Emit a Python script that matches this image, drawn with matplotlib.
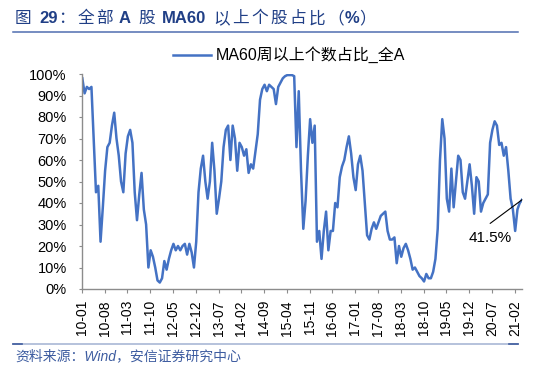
import matplotlib
matplotlib.use('Agg')
import matplotlib.pyplot as plt
import matplotlib.dates as mdates
from matplotlib.lines import Line2D
from matplotlib.ticker import FuncFormatter
import pandas as pd

plt.rcParams['font.family'] = ['Liberation Sans', 'Noto Sans CJK SC', 'DejaVu Sans']

# share of A-shares above the weekly MA60 (%), every 3 weeks
ratio = [
    98, 91, 94, 93, 94, 70, 45, 48, 22, 38,
    55, 66, 68, 76, 82, 70, 62, 50, 45, 63,
    71, 74, 68, 45, 32, 44, 54, 37, 30, 10,
    18, 15, 10, 4, 3, 5, 13, 9, 14, 18,
    21, 18, 20, 18, 20, 21, 16, 21, 17, 10,
    22, 45, 56, 62, 50, 42, 50, 68, 55, 35,
    42, 50, 66, 74, 76, 60, 76, 70, 55, 68,
    66, 62, 65, 54, 58, 56, 64, 72, 88, 93,
    95, 92, 95, 94, 93, 86, 94, 96, 98, 99,
    99.5, 99.5, 99.5, 99, 66, 92, 55, 28, 41, 62,
    79, 68, 76, 22, 27, 14, 27, 36, 18, 27,
    27, 40, 38, 52, 57, 60, 66, 71, 63, 52,
    46, 58, 62, 55, 40, 25, 23, 28, 31, 28,
    31, 34, 35, 36, 27, 23, 23, 24, 12, 20,
    15, 19, 21, 18, 14, 9, 10, 8, 6, 5,
    3.5, 7, 5, 5, 8, 14, 28, 60, 79, 70,
    42, 36, 56, 38, 50, 62, 60, 45, 42, 50,
    58, 48, 35, 52, 50, 36, 40, 42, 44, 68,
    74, 78, 76, 67, 68, 62, 66, 55, 42, 37,
    27, 37, 40, 41.5,
]
first_date = '2010-01-04'
last_date = '2021-04-09'
tick_start = '2010-01-01'
tick_end = '2021-02-01'
series_name = 'MA60周以上个数占比_全A'
title_runs = [
    ('图', 'normal', 8), ('29', 'bold', 0), ('：全部', 'normal', 6),
    ('A', 'bold', 7), ('股', 'normal', 7), ('MA60', 'bold', 7),
    ('以上个股占比（', 'normal', 0), ('%', 'bold', 0), ('）', 'normal', 0),
]
source = '资料来源：Wind，安信证券研究中心'

W, H = 550, 372
fig = plt.figure(figsize=(W / 100, H / 100), dpi=100)
ax = fig.add_axes([82 / W, 1 - 289 / H, 440 / W, 215 / H])

dates = pd.date_range(first_date, last_date, periods=len(ratio))
ax.plot(dates, ratio, color='#4472C4', lw=1.8, label=series_name)

ax.set_ylim(0, 100)
ax.set_xlim(pd.Timestamp(tick_start), dates[-1])
ax.set_yticks(range(0, 101, 10))
ax.yaxis.set_major_formatter(FuncFormatter(lambda v, p: f'{v:.0f}%'))
ax.set_xticks(pd.date_range(tick_start, tick_end, freq='7MS'))
ax.xaxis.set_major_formatter(mdates.DateFormatter('%y-%m'))

for s in ['top', 'right']:
    ax.spines[s].set_visible(False)
for s in ['left', 'bottom']:
    ax.spines[s].set_color('#8c8c8c')
    ax.spines[s].set_linewidth(1.0)
ax.tick_params(axis='x', direction='out', length=3, width=0.8, color='#8c8c8c',
               labelsize=10, rotation=90, pad=5)
ax.tick_params(axis='y', direction='out', length=2, width=0.8, color='#8c8c8c',
               labelsize=10.5, pad=9)

# latest value callout
label_pos = (pd.Timestamp('2020-06-15'), 30.5)
ax.annotate('', xy=(dates[-1], ratio[-1]), xytext=label_pos,
            arrowprops=dict(arrowstyle='-', color='black', lw=0.8,
                            shrinkA=0, shrinkB=0))
ax.text(pd.Timestamp('2020-06-15'), 23.5, f'{ratio[-1]}%', ha='center', va='center',
        fontsize=11)

fig.legend(loc='center', bbox_to_anchor=(289 / W, 1 - 55 / H), frameon=False,
           fontsize=11.5, handlelength=2.4, handletextpad=0.3)

# title drawn in pieces so the latin parts can be bold; CJK chars get extra spacing
fig.canvas.draw()
renderer = fig.canvas.get_renderer()
x = 15
for text, weight, gap in title_runs:
    pieces = list(text) if weight == 'normal' else [text]
    for k, piece in enumerate(pieces):
        t = fig.text(x / W, 1 - 18.5 / H, piece, fontsize=12, fontweight=weight,
                     color='#203F86', va='center')
        x += t.get_window_extent(renderer).width
        if weight == 'normal' and k < len(pieces) - 1:
            x += 2.5
    x += gap

fig.add_artist(Line2D([13 / W, 518 / W], [1 - 31.7 / H] * 2, color='#4F6DB0', lw=1.1))
fig.add_artist(Line2D([13 / W, 518 / W], [1 - 344 / H] * 2, color='#A9B7D6', lw=1.2))
fig.add_artist(Line2D([13 / W, 22 / W], [1 - 344 / H] * 2, color='#3F5C9E', lw=1.2))
fig.add_artist(Line2D([509 / W, 518 / W], [1 - 344 / H] * 2, color='#3F5C9E', lw=1.2))

fig.text(15 / W, 1 - 356.5 / H, source, fontsize=10, color='#3D5CA0',
         style='italic', va='center')

fig.savefig('out.png', dpi=100)
